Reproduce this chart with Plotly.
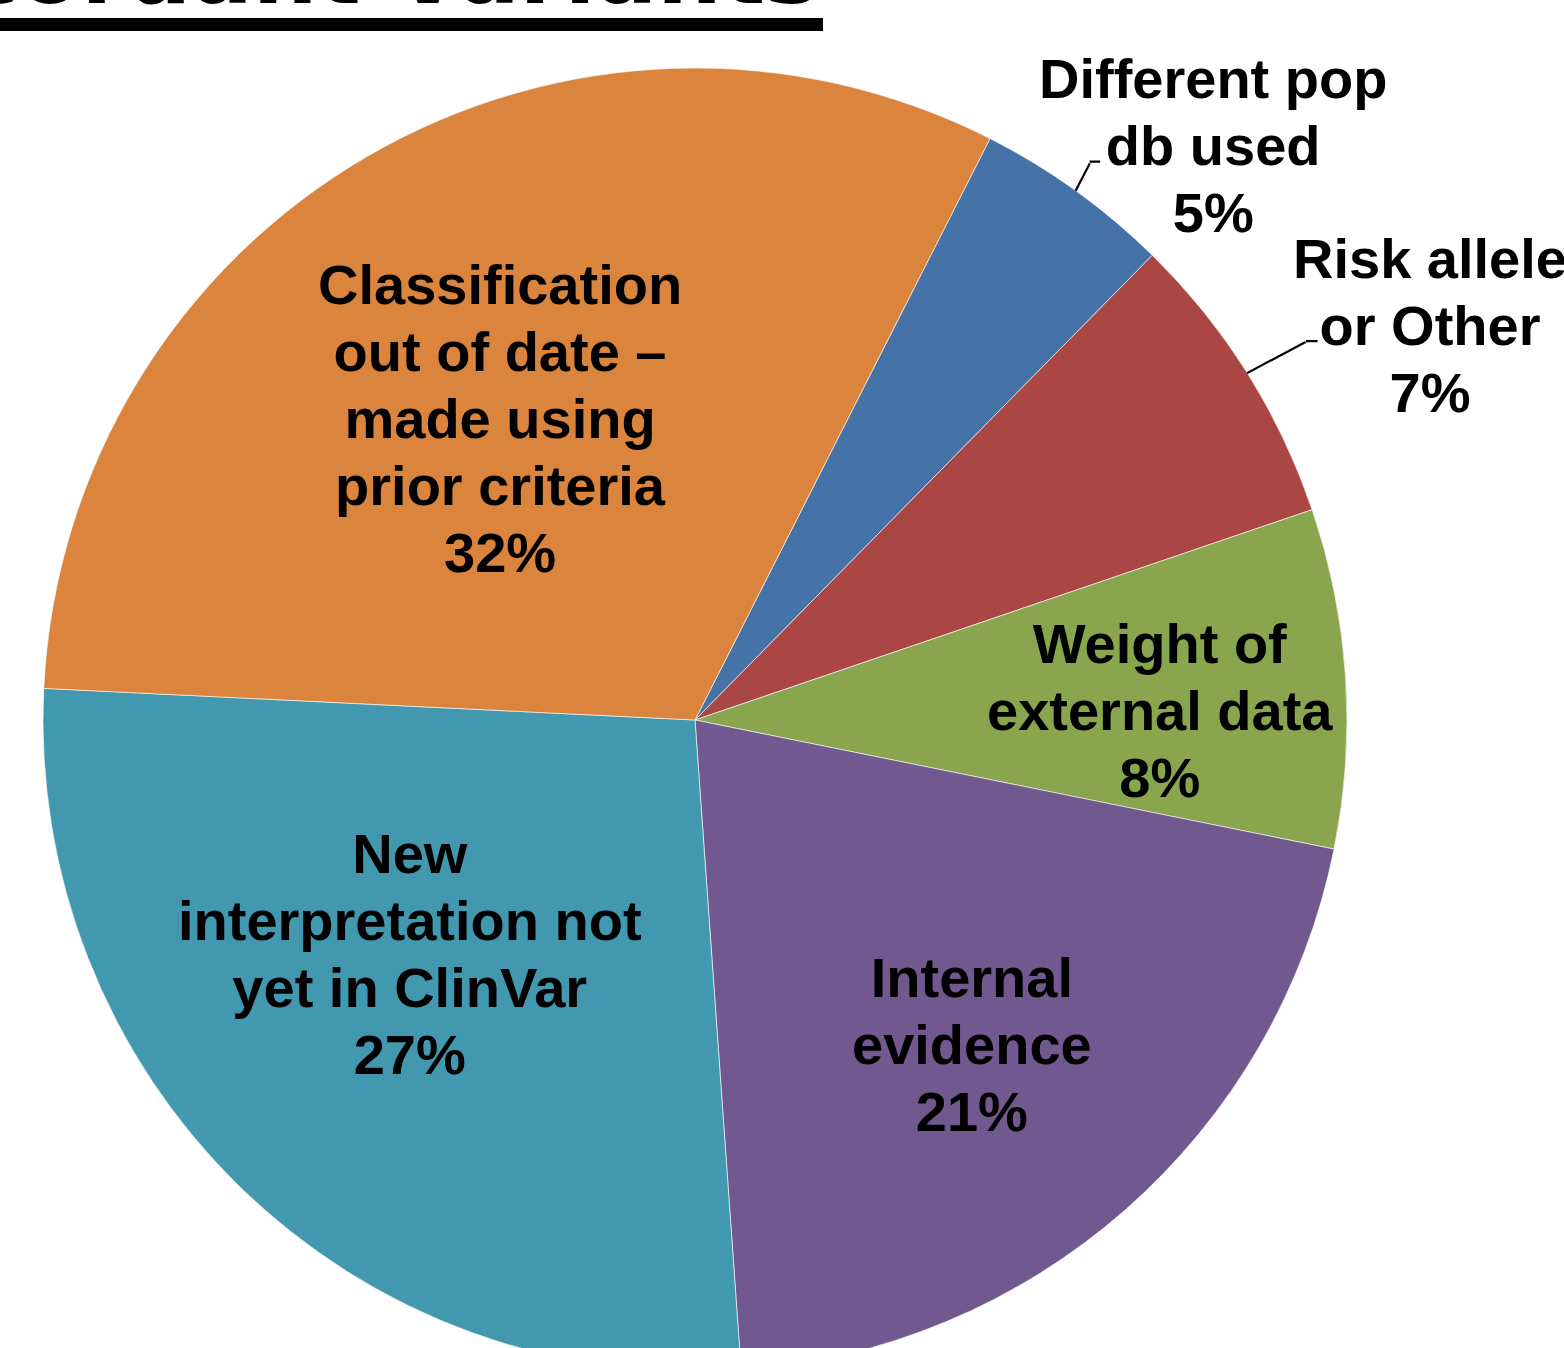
import math
import plotly.graph_objects as go

# ---------------- data ----------------
labels = [
    "Different pop<br>db used",
    "Risk allele<br>or Other",
    "Weight of<br>external data",
    "Internal<br>evidence",
    "New<br>interpretation not<br>yet in ClinVar",
    "Classification<br>out of date –<br>made using<br>prior criteria",
]
values = [4.9, 7.4, 8.4, 20.7, 26.9, 31.7]
colors = ["#4572A7", "#AA4643", "#89A54E", "#71588F", "#4198AF", "#DA843D"]
title_text = "Discordant Variants"

# ---------------- layout parameters ----------------
W, H = 1564, 1400
CX, CY, R = 695, 720, 652          # pie centre / radius (px)
ROT = 26.9                          # start angle of first slice
FONT = "Liberation Sans, Arial, sans-serif"
# label placement: radius fraction and angle tweak from slice mid-angle
label_r = [1.186, 1.28, 0.713, 0.654, 0.565, 0.551]
label_dtheta = [6.3, 3.9, 2.5, 0.8, 6.3, -2.7]
# leader lines for outside labels: (elbow dx, elbow dy, horizontal length)
leaders = {0: (15, -29, 11), 1: (60, -32, 12)}


def px2paper(x, y):
    return x / W, 1 - y / H


fig = go.Figure()
fig.add_trace(go.Pie(
    labels=[l.replace("<br>", " ") for l in labels],
    values=values,
    sort=False,
    direction="clockwise",
    rotation=ROT,
    marker=dict(colors=colors, line=dict(color="rgba(255,255,255,0.6)", width=1)),
    textinfo="none",
    hoverinfo="skip",
    showlegend=False,
    domain=dict(x=[(CX - R) / W, (CX + R) / W], y=[1 - (CY + R) / H, 1 - (CY - R) / H]),
))

total = sum(values)
annotations = []
cum = 0.0
for i, (lab, v) in enumerate(zip(labels, values)):
    mid = ROT + 360.0 * (cum + v / 2) / total
    cum += v
    pct = round(100 * v / total)
    lines = lab.split("<br>") + [f"{pct}%"]
    txt = "<br>".join(f'<span style="font-size:56px">{ln}</span>' for ln in lines)
    th = math.radians(mid + label_dtheta[i])
    lx = CX + label_r[i] * R * math.sin(th)
    ly = CY - label_r[i] * R * math.cos(th)
    xp, yp = px2paper(lx, ly)
    annotations.append(dict(
        x=xp, y=yp, xref="paper", yref="paper", text=txt, showarrow=False,
        xanchor="center", yanchor="middle", align="center",
        font=dict(family=FONT, size=51.5, color="black", weight="bold"),
    ))
    if i in leaders:
        edx, edy, hl = leaders[i]
        thm = math.radians(mid)
        rx = CX + R * math.sin(thm)
        ry = CY - R * math.cos(thm)
        hx, hy = px2paper(rx, ry)
        annotations.append(dict(
            x=hx, y=hy, xref="paper", yref="paper", text="", showarrow=True,
            ax=edx, ay=edy, arrowhead=0, arrowwidth=2.2, arrowcolor="black",
            standoff=0, startstandoff=0,
        ))
        ex, ey = px2paper(rx + edx - 1, ry + edy)
        annotations.append(dict(
            x=ex, y=ey, xref="paper", yref="paper", text="", showarrow=True,
            ax=hl + 1, ay=0, arrowhead=0, arrowwidth=2.2, arrowcolor="black",
            standoff=0, startstandoff=0,
        ))

# cropped slide title at top
annotations.append(dict(
    x=822 / W, y=1 - 26 / H, xref="paper", yref="paper", text=title_text,
    showarrow=False, xanchor="right", yanchor="bottom",
    font=dict(family="DejaVu Sans", size=91, color="black", weight="bold"),
))

fig.update_layout(
    width=W, height=H,
    margin=dict(l=0, r=0, t=0, b=0),
    paper_bgcolor="white", plot_bgcolor="white",
    annotations=annotations,
    shapes=[dict(type="line", xref="paper", yref="paper",
                 x0=-0.01, x1=823 / W, y0=1 - 24.5 / H, y1=1 - 24.5 / H,
                 line=dict(color="black", width=13))],
)

fig.write_html(
    "out.html",
    config={"displayModeBar": False},
    post_script="document.body.style.margin='0';document.body.style.overflow='hidden';"
                "document.documentElement.style.overflow='hidden';",
)
